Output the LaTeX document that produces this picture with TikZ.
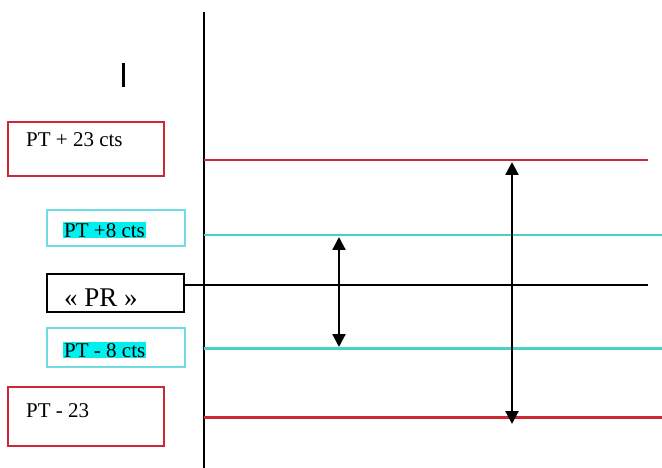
\documentclass[tikz,border=0pt]{standalone}
\usepackage{fontspec}
\setmainfont{Liberation Serif}
\usetikzlibrary{arrows.meta}
\definecolor{lred}{RGB}{205,40,55}
\definecolor{lcyan}{RGB}{70,210,200}
\definecolor{bcyan}{RGB}{110,220,225}
\definecolor{hcyan}{RGB}{0,240,240}
\begin{document}
\begin{tikzpicture}[x=1pt,y=-1pt,
  box/.style={draw, rectangle, line width=2.2pt, inner sep=0pt},
  redbox/.style={box, draw=lred, minimum width=156pt},
  cybox/.style={box, draw=bcyan, line width=1.8pt, minimum width=138pt},
  lbl/.style={anchor=base west, inner sep=0pt, font=\fontsize{21}{24}\selectfont},
  hl/.style={lbl, fill=hcyan, inner xsep=1pt, inner ysep=1pt},
  redline/.style={draw=lred, line width=2.4pt},
  cyline/.style={draw=lcyan, line width=2.6pt},
  dbl/.style={line width=2.2pt, {Triangle[width=13pt,length=13pt]}-{Triangle[width=13pt,length=13pt]}}
]
\useasboundingbox (0,0) rectangle (662,468);
% boxes
\node[redbox, minimum height=54pt] (b1) at (86,149) {};
\node[cybox, minimum height=36pt] (b2) at (116,228) {};
\node[box, minimum width=137pt, minimum height=38pt] (b3) at (115.5,293) {};
\node[cybox, minimum height=39pt] (b4) at (116,347.5) {};
\node[redbox, minimum height=59pt] (b5) at (86,416.5) {};
% labels
\node[lbl] (t1) at (26,147) {PT + 23 cts};
\node[hl] (t2) at (63,237) {PT +8 cts};
\node[lbl, font=\fontsize{27}{30}\selectfont] (t3) at (64,306) {« PR »};
\node[hl] (t4) at (63,357) {PT - 8 cts};
\node[lbl] (t5) at (26,417) {PT - 23};
% small mark
\draw[line width=3pt] (123,63) -- (123,87);
% axis
\coordinate (axtop) at (204,12);
\coordinate (axbot) at (204,468);
\draw[line width=2.2pt] (axtop) -- (axbot);
% level lines
\coordinate (r1a) at (204,160); \coordinate (r1b) at (648,160);
\coordinate (c1a) at (204,235); \coordinate (c1b) at (662,235);
\coordinate (k1b) at (648,285);
\coordinate (c2a) at (204,348.5); \coordinate (c2b) at (662,348.5);
\coordinate (r2a) at (204,417.5); \coordinate (r2b) at (662,417.5);
\draw[redline] (r1a) -- (r1b);
\draw[cyline] (c1a) -- (c1b);
\draw[line width=2.2pt] ([yshift=8pt]b3.east) -- (k1b);
\draw[cyline] (c2a) -- (c2b);
\draw[redline] (r2a) -- (r2b);
% arrows
\coordinate (a1t) at (339,237); \coordinate (a1b) at (339,347);
\coordinate (a2t) at (512,162); \coordinate (a2b) at (512,424);
\draw[dbl] (a1t) -- (a1b);
\draw[dbl] (a2t) -- (a2b);
\end{tikzpicture}
\end{document}
